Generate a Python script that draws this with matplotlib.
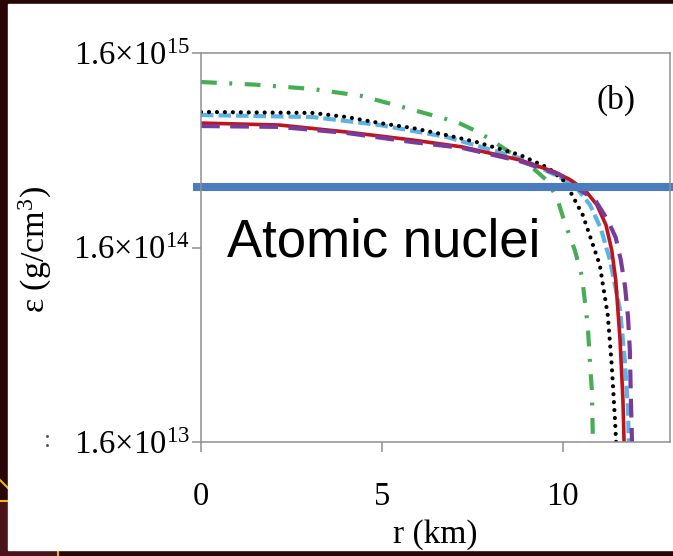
import matplotlib
matplotlib.use("Agg")
import matplotlib.pyplot as plt
from matplotlib.patches import Rectangle
from matplotlib.lines import Line2D

# radius (km) and energy density (g/cm^3)
r_green = [0.0, 1.5, 3.08, 4.44, 5.77, 7.07, 7.71, 8.53, 9.2, 9.55, 9.83, 10.03, 10.33,
           10.53, 10.69, 10.75, 10.8, 10.83, 10.86]
eps_green = [1.135e15, 1.10e15, 1.045e15, 9.62e14, 8.24e14, 7.07e14, 6.21e14, 4.95e14,
             4.05e14, 3.55e14, 2.91e14, 2.21e14, 1.55e14, 1.13e14, 6.24e13, 4.07e13,
             2.96e13, 1.6e13, 1.4e13]

r_black = [0.0, 3.08, 4.02, 4.94, 5.85, 6.79, 7.62, 8.81, 9.6, 10.06, 10.55, 11.02,
           11.24, 11.35, 11.44, 11.47, 11.48]
eps_black = [7.96e14, 7.87e14, 7.5e14, 6.98e14, 6.58e14, 6.05e14, 5.57e14, 4.79e14,
             4.1e14, 3.48e14, 2.35e14, 1.30e14, 7.19e13, 3.98e13, 2.08e13, 1.6e13, 1.4e13]

r_red = [0.0, 2.17, 4.02, 5.85, 7.23, 8.81, 9.78, 10.19, 10.61, 10.94, 11.19, 11.35,
         11.46, 11.58, 11.66, 11.69, 11.70]
eps_red = [6.98e14, 6.82e14, 6.28e14, 5.71e14, 5.26e14, 4.51e14, 3.91e14, 3.58e14,
           3.16e14, 2.65e14, 2.09e14, 1.55e14, 1.09e14, 5.35e13, 2.63e13, 1.6e13, 1.4e13]

r_purple = [0.0, 2.17, 4.02, 5.85, 7.23, 8.81, 9.92, 10.33, 10.89, 11.24, 11.46, 11.6,
            11.72, 11.8, 11.85, 11.88, 11.91, 11.92]
eps_purple = [6.74e14, 6.67e14, 6.21e14, 5.57e14, 5.20e14, 4.45e14, 3.78e14, 3.29e14,
              2.81e14, 2.21e14, 1.8e14, 1.38e14, 1.0e14, 7.0e13, 4.75e13, 2.63e13,
              1.6e13, 1.4e13]

r_blue = [0.0, 3.08, 4.94, 6.79, 8.81, 9.92, 10.4, 10.75, 11.05, 11.30, 11.58, 11.71,
          11.80, 11.82, 11.83]
eps_blue = [7.68e14, 7.50e14, 6.82e14, 5.92e14, 4.61e14, 3.68e14, 3.2e14, 2.65e14,
            2.0e14, 1.38e14, 7.64e13, 4.23e13, 2.34e13, 1.6e13, 1.4e13]

nuclei_eps = 3.29e14

x_ticks = [0, 5, 10]
y_ticks = [1.6e13, 1.6e14, 1.6e15]
y_ticklabels = ["1.6×10$^{13}$", "1.6×10$^{14}$", "1.6×10$^{15}$"]

plt.rcParams["font.family"] = ["Liberation Serif", "DejaVu Serif"]
plt.rcParams["mathtext.fontset"] = "custom"
plt.rcParams["mathtext.rm"] = "Liberation Serif"
plt.rcParams["mathtext.it"] = "Liberation Serif:italic"

W, H = 673, 556
fig = plt.figure(figsize=(W / 100, H / 100), dpi=100, facecolor="#2a0506")


def px(x, y):
    # pixel (from top-left) to figure fraction
    return x / W, 1 - y / H


# slide background bits
fig.add_artist(Rectangle((0, 0), 8 / W, 55 / H, transform=fig.transFigure,
                         color="#4a1418", zorder=0))
fig.add_artist(Rectangle((0, 0), 58 / W, 6 / H, transform=fig.transFigure,
                         color="#4a1418", zorder=0))
fig.add_artist(Line2D(*zip(px(0, 501), px(8, 501)), transform=fig.transFigure,
                      color="#f2b21f", lw=1.5, zorder=1))
fig.add_artist(Line2D(*zip(px(0, 480), px(8, 488)), transform=fig.transFigure,
                      color="#f2b21f", lw=1.5, zorder=1))
fig.add_artist(Line2D(*zip(px(58, 550), px(58, 556)), transform=fig.transFigure,
                      color="#f2b21f", lw=1.5, zorder=1))
# white panel
fig.add_artist(Rectangle(px(8, 550), 1, 546 / H, transform=fig.transFigure,
                         color="white", zorder=1))

ax = fig.add_axes([201 / W, 1 - 442 / H, 469 / W, 389 / H])
ax.set_zorder(2)
ax.patch.set_alpha(0)

ax.plot(r_green, eps_green, color="#47ad55", lw=3, dashes=(3.8, 3.0, 0.7, 3.0))
ax.plot(r_blue, eps_blue, color="#5cb3e4", lw=3, dashes=(3, 1.2))
ax.plot(r_black, eps_black, color="black", lw=3, dashes=(0.01, 1.9),
        dash_capstyle="round")
ax.plot(r_red, eps_red, color="#c0141c", lw=2.6)
ax.plot(r_purple, eps_purple, color="#7a3a9a", lw=3, dashes=(4.5, 2.5))

# annotation overlaid on the slide
ax.plot([-0.018, 1.01], [nuclei_eps, nuclei_eps], color="#4a7dbf", lw=5.8,
        transform=ax.get_yaxis_transform(), clip_on=False, solid_capstyle="butt")
ax.text(0.72, 1.43e14, "Atomic nuclei", family="Liberation Sans", fontsize=38,
        ha="left", va="baseline")
ax.text(0.885, 0.877, "(b)", transform=ax.transAxes, fontsize=24,
        ha="center", va="center")

ax.set_yscale("log")
ax.set_xlim(0, 12.96)
ax.set_ylim(1.6e13, 1.6e15)
ax.set_xticks(x_ticks)
ax.set_yticks(y_ticks)
ax.set_yticklabels(y_ticklabels)
ax.yaxis.set_minor_locator(matplotlib.ticker.NullLocator())
ax.tick_params(axis="x", length=7.2, width=1.1, color="#909090", pad=21,
               labelsize=23.5, direction="out")
ax.tick_params(axis="y", length=6.5, width=1.1, color="#909090", pad=1.5,
               labelsize=23.5, direction="out")
for s in ax.spines.values():
    s.set_color("#909090")
    s.set_linewidth(1.1)

fig.text(*px(35, 250), "ε (g/cm$^{3}$)", rotation=90, fontsize=24.5,
         ha="center", va="center")
fig.text(*px(435, 535), "r (km)", fontsize=24, ha="center", va="center")
fig.text(*px(48, 441), ":", fontsize=18, color="#555555", ha="center", va="center")

fig.savefig("out.png", dpi=100, facecolor=fig.get_facecolor())
